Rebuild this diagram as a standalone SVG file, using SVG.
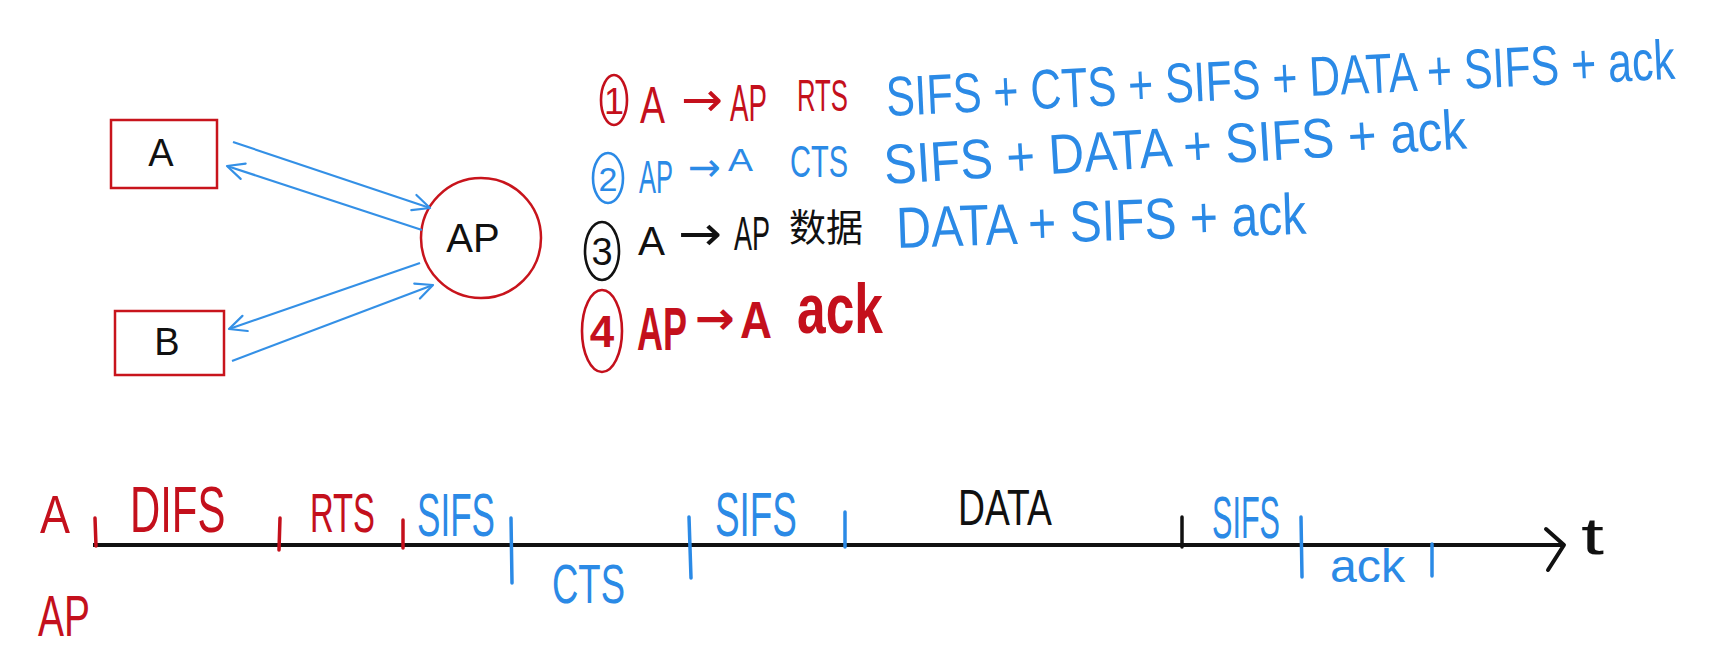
<svg xmlns="http://www.w3.org/2000/svg" width="1712" height="655" viewBox="0 0 1712 655">
<style>
text{font-family:"Liberation Sans","DejaVu Sans",sans-serif}
.cjk{font-family:"Liberation Sans","Noto Sans CJK SC",sans-serif}
.arr{font-family:"DejaVu Sans",sans-serif}
.red{fill:#c4101c}
.blue{fill:#2b8ae6}
.blk{fill:#111}
.b{font-weight:bold}
.box{fill:#fff;stroke:#c8141c;stroke-width:2.5}
.conn{fill:none;stroke:#3490e6;stroke-width:2.2}
.tick{stroke-width:3.5;stroke-linecap:round;fill:none}
.tr{stroke:#c4101c}
.tb{stroke:#2b8ae6}
.tk{stroke:#111}
.ring{fill:none;stroke-width:2.6}
</style>
<defs>
<marker id="ah" viewBox="0 0 22 22" refX="20" refY="11" markerWidth="22" markerHeight="22" markerUnits="userSpaceOnUse" orient="auto">
<polyline points="3,3 20,11 3,19" fill="none" stroke="#3490e6" stroke-width="2.2" stroke-linecap="round" stroke-linejoin="round"/>
</marker>
</defs>
<rect width="1712" height="655" fill="#fff"/>

<g id="node-A">
<rect class="box" x="111" y="120" width="106" height="68"/>
<text class="blk" x="161" y="166" font-size="38" text-anchor="middle">A</text>
</g>
<g id="node-B">
<rect class="box" x="115" y="311" width="109" height="64"/>
<text class="blk" x="167" y="355" font-size="38" text-anchor="middle">B</text>
</g>
<g id="node-AP">
<circle cx="481" cy="238" r="60" fill="#fff" stroke="#c8141c" stroke-width="2.5"/>
<text class="blk" x="473" y="252" font-size="40" text-anchor="middle">AP</text>
</g>

<g id="connectors">
<line class="conn" x1="233" y1="142" x2="430" y2="208" marker-end="url(#ah)"/>
<line class="conn" x1="422" y1="230" x2="227" y2="166" marker-end="url(#ah)"/>
<line class="conn" x1="420" y1="263" x2="229" y2="329" marker-end="url(#ah)"/>
<line class="conn" x1="232" y1="361" x2="433" y2="285" marker-end="url(#ah)"/>
</g>

<g id="step1">
<ellipse class="ring" stroke="#c4101c" cx="614" cy="100" rx="13" ry="25"/>
<text class="red" x="614" y="114" font-size="36" text-anchor="middle">1</text>
<text class="red" x="640" y="123" font-size="52" textLength="25" lengthAdjust="spacingAndGlyphs">A</text>
<text class="red arr" x="681" y="116" font-size="48" textLength="42" lengthAdjust="spacingAndGlyphs">→</text>
<text class="red" font-size="52" transform="translate(730 121) scale(0.533 1)">AP</text>
<text class="red" x="797" y="111" font-size="44" textLength="51" lengthAdjust="spacingAndGlyphs">RTS</text>
<text class="blue" font-size="56" transform="translate(887 116) rotate(-2.7) scale(0.767 1)">SIFS + CTS + SIFS + DATA + SIFS + ack</text>
</g>

<g id="step2">
<ellipse class="ring" stroke="#2b8ae6" cx="608" cy="178" rx="15" ry="25"/>
<text class="blue" x="608" y="191" font-size="34" text-anchor="middle">2</text>
<text class="blue" font-size="46" transform="translate(639 193) scale(0.554 1)">AP</text>
<text class="blue arr" x="688" y="181" font-size="40" textLength="33" lengthAdjust="spacingAndGlyphs">→</text>
<text class="blue" x="728" y="171" font-size="32" textLength="25" lengthAdjust="spacingAndGlyphs">A</text>
<text class="blue" x="790" y="177" font-size="44" textLength="58" lengthAdjust="spacingAndGlyphs">CTS</text>
<text class="blue" font-size="56" transform="translate(885 184) rotate(-3.5) scale(0.877 1)">SIFS + DATA + SIFS + ack</text>
</g>

<g id="step3">
<ellipse class="ring" stroke="#111" cx="602" cy="251" rx="17" ry="29"/>
<text class="blk" x="602" y="265" font-size="38" text-anchor="middle">3</text>
<text class="blk" x="638" y="255" font-size="40" textLength="27" lengthAdjust="spacingAndGlyphs">A</text>
<text class="blk arr" x="678" y="250" font-size="48" textLength="44" lengthAdjust="spacingAndGlyphs">→</text>
<text class="blk" font-size="48" transform="translate(734 250) scale(0.5625 1)">AP</text>
<text class="blk cjk" x="789" y="241" font-size="38" textLength="74" lengthAdjust="spacingAndGlyphs">数据</text>
<text class="blue" font-size="58" transform="translate(897 248) rotate(-2) scale(0.83 1)">DATA + SIFS + ack</text>
</g>

<g id="step4">
<ellipse class="ring" stroke="#c4101c" stroke-width="3.2" cx="602" cy="331" rx="20" ry="41"/>
<text class="red b" x="602" y="347" font-size="44" text-anchor="middle">4</text>
<text class="red b" font-size="62" transform="translate(637 350) scale(0.58 1)">AP</text>
<text class="red arr b" x="695" y="334" font-size="46" textLength="40" lengthAdjust="spacingAndGlyphs">→</text>
<text class="red b" x="740" y="338" font-size="52" textLength="32" lengthAdjust="spacingAndGlyphs">A</text>
<text class="red b" font-size="70" transform="translate(797 333) scale(0.736 1)">ack</text>
</g>

<g id="timeline">
<line x1="93" y1="545" x2="1562" y2="545" stroke="#111" stroke-width="4"/>
<polyline points="1546,529 1564,545 1548,570" fill="none" stroke="#111" stroke-width="4" stroke-linecap="round" stroke-linejoin="round"/>
<text class="blk" x="1581" y="554" font-size="52" textLength="23" lengthAdjust="spacingAndGlyphs">t</text>
<text class="red" x="40" y="533" font-size="54" textLength="30" lengthAdjust="spacingAndGlyphs">A</text>
<text class="red" x="38" y="636" font-size="58" textLength="52" lengthAdjust="spacingAndGlyphs">AP</text>
<line class="tick tr" x1="95" y1="518" x2="96" y2="546"/>
<line class="tick tr" x1="280" y1="518" x2="279" y2="550"/>
<line class="tick tr" x1="403" y1="520" x2="403" y2="548"/>
<line class="tick tb" x1="511" y1="518" x2="512" y2="583"/>
<line class="tick tb" x1="689" y1="517" x2="691" y2="578"/>
<line class="tick tb" x1="845" y1="512" x2="845" y2="547"/>
<line class="tick tk" x1="1182" y1="517" x2="1182" y2="547"/>
<line class="tick tb" x1="1301" y1="517" x2="1302" y2="577"/>
<line class="tick tb" x1="1432" y1="544" x2="1432" y2="576"/>
<text class="red" font-size="64" transform="translate(130 532) scale(0.654 1)">DIFS</text>
<text class="red" x="310" y="532" font-size="56" textLength="65" lengthAdjust="spacingAndGlyphs">RTS</text>
<text class="blue" font-size="62" transform="translate(417 536) scale(0.566 1)">SIFS</text>
<text class="blue" x="552" y="603" font-size="56" textLength="73" lengthAdjust="spacingAndGlyphs">CTS</text>
<text class="blue" font-size="62" transform="translate(715 536) scale(0.595 1)">SIFS</text>
<text class="blk" x="958" y="525" font-size="50" textLength="94" lengthAdjust="spacingAndGlyphs">DATA</text>
<text class="blue" font-size="60" transform="translate(1212 538) scale(0.51 1)">SIFS</text>
<text class="blue" x="1330" y="582" font-size="46" textLength="75" lengthAdjust="spacingAndGlyphs">ack</text>
</g>
</svg>
